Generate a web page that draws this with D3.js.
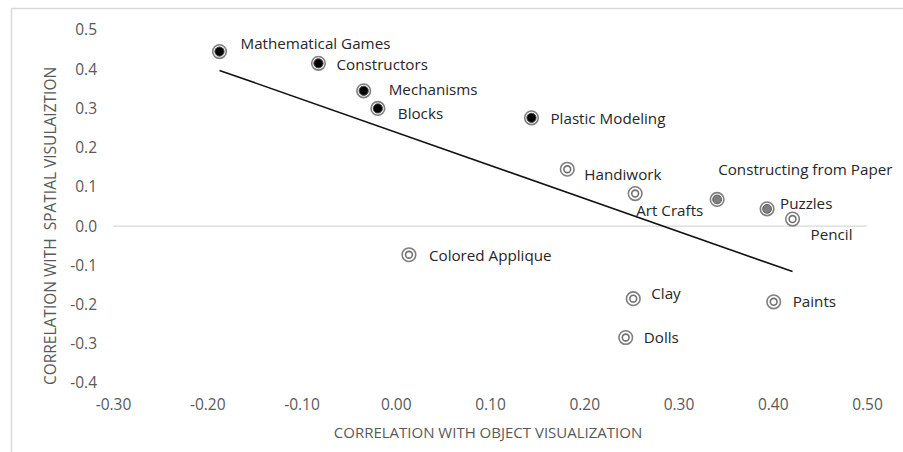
<!DOCTYPE html>
<html><head><meta charset="utf-8">
<script src="https://cdn.jsdelivr.net/npm/d3@7/dist/d3.min.js"></script>
<style>body{margin:0;background:#fff;} svg{display:block;font-family:"Open Sans",sans-serif;}</style>
</head><body>
<script>
const names = ["Mathematical Games","Constructors","Mechanisms","Blocks","Plastic Modeling","Handiwork","Art Crafts","Constructing from Paper","Puzzles","Pencil","Colored Applique","Clay","Dolls","Paints"];
const objectVis = [-0.187,-0.082,-0.034,-0.019,0.144,0.182,0.254,0.341,0.394,0.421,0.014,0.252,0.244,0.401];
const spatialVis = [0.445,0.415,0.345,0.30,0.276,0.145,0.083,0.068,0.044,0.018,-0.073,-0.185,-0.284,-0.193];
const markerType = ["dark","dark","dark","dark","dark","hollow","hollow","gray","gray","hollow","hollow","hollow","hollow","hollow"];
const labelDx = [21,18,25,20,19,17,1,1,13,18,20,18,18,19];
const labelDy = [-8,1,-1,5,1,5,17,-30,-5,16,1,-5,0,0];
const trendX = [-0.187,0.421];
const trendY = [0.397,-0.116];
const xTicks = [-0.30,-0.20,-0.10,0.00,0.10,0.20,0.30,0.40,0.50];
const yTicks = [0.5,0.4,0.3,0.2,0.1,0.0,-0.1,-0.2,-0.3,-0.4];

const W=903,H=452;
const svg=d3.select("body").append("svg").attr("width",W).attr("height",H);
const x=d3.scaleLinear().domain([-0.3,0.5]).range([113,867]);
const y=d3.scaleLinear().domain([-0.4,0.5]).range([383,30]);

// frame
svg.append("path").attr("d",`M11.5,${H} L11.5,8.5 L${W},8.5`).attr("fill","none").attr("stroke","#d9d9d9").attr("stroke-width",1.5);

// zero line
svg.append("line").attr("x1",x(-0.3)).attr("x2",x(0.5)).attr("y1",y(0)).attr("y2",y(0)).attr("stroke","#d9d9d9").attr("stroke-width",1.2);

// y axis labels
const yAxis=d3.axisLeft(y).tickValues(yTicks).tickFormat(d=>d3.format(".1f")(d).replace("−","-")).tickSize(0).tickPadding(0);
const ga=svg.append("g").attr("transform","translate(97,0)").call(yAxis);
ga.select(".domain").remove();
ga.selectAll("text").attr("fill","#595959").style("font-size","15.5px").style("font-family","'Open Sans',sans-serif");

// x axis labels
const xAxis=d3.axisBottom(x).tickValues(xTicks).tickFormat(d=>d3.format(".2f")(d).replace("−","-")).tickSize(0).tickPadding(0);
const gx=svg.append("g").attr("transform","translate(0,399)").call(xAxis);
gx.select(".domain").remove();
gx.selectAll("text").attr("fill","#595959").style("font-size","15.5px").style("font-family","'Open Sans',sans-serif");

// axis titles
svg.append("text").attr("x",488).attr("y",438).attr("text-anchor","middle").attr("fill","#595959").style("font-size","15px").text("CORRELATION WITH OBJECT VISUALIZATION");
svg.append("text").attr("transform","translate(56,226) rotate(-90)").attr("text-anchor","middle").attr("fill","#595959").style("font-size","15.5px").style("white-space","pre").attr("xml:space","preserve").text("CORRELATION WITH  SPATIAL VISULAIZTION");

// trend line
svg.append("line").attr("x1",x(trendX[0])).attr("y1",y(trendY[0])).attr("x2",x(trendX[1])).attr("y2",y(trendY[1])).attr("stroke","#111").attr("stroke-width",1.6);

// points
const data=names.map((n,i)=>({n,x:objectVis[i],y:spatialVis[i],t:markerType[i],dx:labelDx[i],dy:labelDy[i]}));
const g=svg.append("g").selectAll("g").data(data).join("g").attr("transform",d=>`translate(${x(d.x)},${y(d.y)})`);
g.append("circle").attr("r",6.8).attr("fill","#fff").attr("stroke","#7f7f7f").attr("stroke-width",1.6);
g.filter(d=>d.t==="dark").append("circle").attr("r",4.6).attr("fill","#000").attr("stroke","#444").attr("stroke-width",1);
g.filter(d=>d.t==="gray").append("circle").attr("r",4.4).attr("fill","#808080").attr("stroke","#595959").attr("stroke-width",1);
g.filter(d=>d.t==="hollow").append("circle").attr("r",3.4).attr("fill","#fff").attr("stroke","#6f6f6f").attr("stroke-width",1.6);

// labels
g.append("text").attr("x",d=>d.dx).attr("y",d=>d.dy).attr("dy","0.35em").attr("fill","#262626").style("font-size","15.2px").text(d=>d.n);
</script>
</body></html>
